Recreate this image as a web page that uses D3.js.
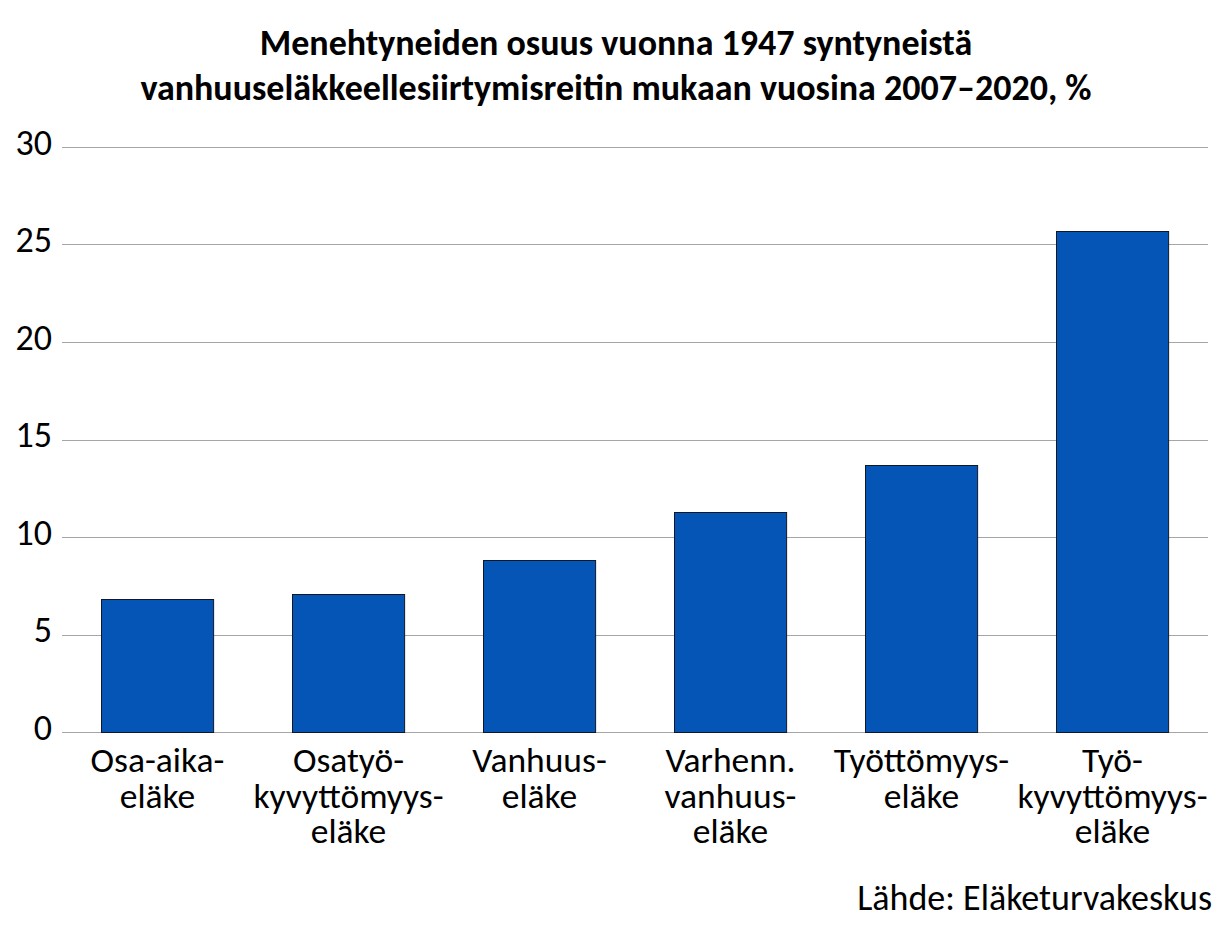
<!DOCTYPE html>
<html><head><meta charset="utf-8">
<script src="https://cdn.jsdelivr.net/npm/d3@7"></script>
<style>body{margin:0;background:#fff;} svg{display:block;}</style>
</head><body>
<svg id="chart" width="1232" height="935"></svg>
<script>
const categories = [
  ["Osa-aika-", "eläke"],
  ["Osatyö-", "kyvyttömyys-", "eläke"],
  ["Vanhuus-", "eläke"],
  ["Varhenn.", "vanhuus-", "eläke"],
  ["Työttömyys-", "eläke"],
  ["Työ-", "kyvyttömyys-", "eläke"]
];
const values = [6.8, 7.1, 8.8, 11.3, 13.7, 25.7];
const yTicks = [0, 5, 10, 15, 20, 25, 30];
const titleLines = ["Menehtyneiden osuus vuonna 1947 syntyneistä", "vanhuuseläkkeellesiirtymisreitin mukaan vuosina 2007–2020, %"];
const sourceText = "Lähde: Eläketurvakeskus";

const FONT = "Carlito, Calibri, Lato, 'Open Sans', sans-serif";
const svg = d3.select("#chart");
const W = 1232, H = 935;
const mLeft = 62, mRight = 1208, mTop = 147, mBottom = 732;

const keys = categories.map((c, i) => i);
const x = d3.scaleBand().domain(keys).range([mLeft, mRight]).paddingInner(0.413).paddingOuter(0.2065);
const y = d3.scaleLinear().domain([0, 30]).range([mBottom, mTop]);

svg.append("rect").attr("width", W).attr("height", H).attr("fill", "#fff");

// title
svg.append("g").selectAll("text").data(titleLines).join("text")
  .attr("x", 616).attr("y", (d, i) => 55 + i * 45)
  .attr("text-anchor", "middle")
  .attr("font-family", FONT).attr("font-weight", "bold").attr("font-size", 36)
  .attr("fill", "#000").text(d => d);

// grid
svg.append("g").selectAll("line").data(yTicks).join("line")
  .attr("x1", mLeft).attr("x2", mRight)
  .attr("y1", d => Math.round(y(d)) + 0.5).attr("y2", d => Math.round(y(d)) + 0.5)
  .attr("stroke", "#a6a6a6").attr("stroke-width", 1);

// y axis labels
const yAxis = d3.axisLeft(y).tickValues(yTicks).tickSize(0).tickPadding(10);
const gy = svg.append("g").attr("transform", `translate(${mLeft},0)`).call(yAxis);
gy.select(".domain").remove();
gy.selectAll("text").attr("font-family", FONT).attr("font-size", 36).attr("fill", "#000").attr("dy", "0.2em");

// bars
svg.append("g").selectAll("rect").data(values).join("rect")
  .attr("x", (d, i) => Math.round(x(i)) + 0.5)
  .attr("y", d => Math.round(y(d)) + 0.5)
  .attr("width", x.bandwidth())
  .attr("height", d => Math.round(y(0)) - Math.round(y(d)))
  .attr("fill", "#0455b6").attr("stroke", "#101828").attr("stroke-width", 1);

// x labels
const xl = svg.append("g").selectAll("text").data(categories).join("text")
  .attr("x", (d, i) => x(i) + x.bandwidth() / 2)
  .attr("y", 772)
  .attr("text-anchor", "middle")
  .attr("font-family", FONT).attr("font-size", 35.5).attr("fill", "#000");
xl.selectAll("tspan").data(d => d).join("tspan")
  .attr("x", function() { return d3.select(this.parentNode).attr("x"); })
  .attr("dy", (d, i) => i === 0 ? 0 : 35.5)
  .text(d => d);

// source
svg.append("text").attr("x", 1212).attr("y", 910).attr("text-anchor", "end")
  .attr("font-family", FONT).attr("font-size", 36).attr("fill", "#000").text(sourceText);
</script>
</body></html>
